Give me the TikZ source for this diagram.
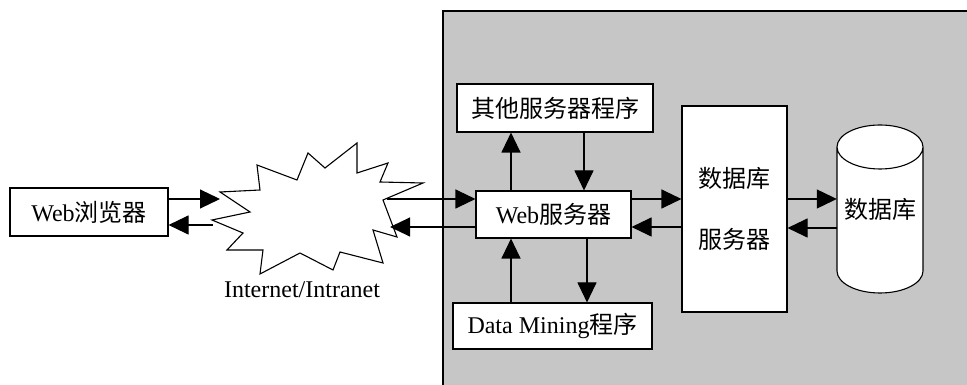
\documentclass[tikz,border=0pt]{standalone}
\usepackage{fontspec}
\setmainfont{Liberation Serif}
\newfontfamily\cjk{Noto Sans CJK SC}
\usetikzlibrary{arrows.meta}
\definecolor{panelgray}{RGB}{198,198,198}
\tikzset{
  x=1pt, y=1pt,
  every node/.style={font=\fontsize{24}{28}\selectfont, inner sep=0pt},
  box/.style={draw, line width=1.1pt, fill=white},
  conn/.style={line width=1.1pt, -{Triangle[length=20pt,width=19pt]}},
}
\begin{document}
\begin{tikzpicture}
\useasboundingbox (0,0) rectangle (967,385);
% panel
\draw[line width=1.2pt, fill=panelgray] (443,-5) rectangle (975,374);
% browser
\node[box, minimum width=158pt, minimum height=48pt] (br) at (89,173) {Web\cjk 浏览器};
% burst
\draw[line width=1.1pt, fill=white] (220,193) -- (260,195) -- (257,220) -- (297,205) -- (308,232) -- (325,217) -- (357,242) -- (357,212) -- (388,222) -- (380,203) -- (423,202) -- (383,185) -- (397,148) -- (373,155) -- (383,122) -- (340,133) -- (333,115) -- (300,132) -- (260,111) -- (263,135) -- (227,135) -- (243,152) -- (212,165) -- (250,173) -- cycle;
\coordinate (netIn) at (220,186);
\coordinate (netOutL) at (213,160);
\coordinate (netOutR) at (387,186);
\coordinate (netInR) at (390,158);
\node (netlabel) at (302,95) {Internet/Intranet};
% server side boxes
\node[box, minimum width=196pt, minimum height=48pt] (other) at (555,277) {\cjk 其他服务器程序};
\node[box, minimum width=155pt, minimum height=47pt] (web) at (553.5,170.5) {Web\cjk 服务器};
\node[box, minimum width=199pt, minimum height=46pt] (dm) at (552.5,59) {Data Mining\cjk 程序};
\node[box, minimum width=105pt, minimum height=206pt, align=center] (dbs) at (734.5,176) {\cjk 数据库\\[33pt]\cjk 服务器};
% cylinder
\fill[white] (837,238) -- (837,114) arc[start angle=180, end angle=360, x radius=43pt, y radius=22pt] -- (923,238) arc[start angle=0, end angle=180, x radius=43pt, y radius=22pt] -- cycle;
\draw[line width=1.1pt] (837,238) -- (837,114) arc[start angle=180, end angle=360, x radius=43pt, y radius=22pt] -- (923,238) arc[start angle=0, end angle=360, x radius=43pt, y radius=22pt];
\node[minimum width=86pt, minimum height=168pt] (db) at (880,176) {\raisebox{-8pt}{\cjk 数据库}};
% connectors
\draw[conn] (br.east |- netIn) -- (netIn);
\draw[conn] (netOutL) -- (br.east |- netOutL);
\draw[conn] (netOutR) -- (web.west |- netOutR);
\draw[conn] (web.west |- netInR) -- (netInR);
\draw[conn] ([xshift=-42.5pt]web.north) -- ([xshift=-44pt]other.south);
\draw[conn] ([xshift=29pt]other.south) -- ([xshift=30.5pt]web.north);
\draw[conn] ([xshift=-41.5pt]dm.north) -- ([xshift=-42.5pt]web.south);
\draw[conn] ([xshift=33.5pt]web.south) -- ([xshift=34.5pt]dm.north);
\draw[conn] (web.east |- 0,186) -- (dbs.west |- 0,186);
\draw[conn] (dbs.west |- 0,158) -- (web.east |- 0,158);
\draw[conn] (dbs.east |- 0,186) -- (db.west |- 0,186);
\draw[conn] (db.west |- 0,157) -- (dbs.east |- 0,157);
\end{tikzpicture}
\end{document}
